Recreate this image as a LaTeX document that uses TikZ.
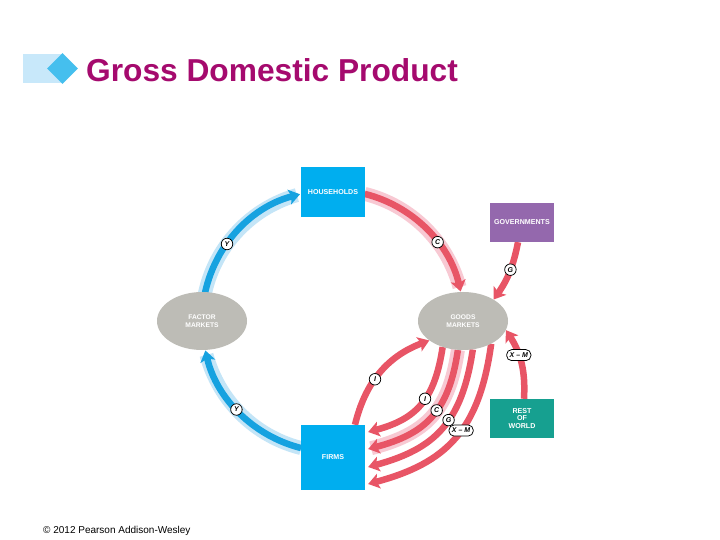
\documentclass[tikz,border=0pt]{standalone}
\usepackage{fontspec}
\setmainfont{Liberation Sans}
\usetikzlibrary{arrows.meta,shapes.geometric,calc,backgrounds}
\definecolor{titlec}{HTML}{A50A6E}
\definecolor{bannerlt}{HTML}{C8E8FA}
\definecolor{bannerdk}{HTML}{45BFEE}
\definecolor{boxblue}{HTML}{00AEEF}
\definecolor{flowblue}{HTML}{16A2E0}
\definecolor{haloblue}{HTML}{C4E5F7}
\definecolor{flowred}{HTML}{E85566}
\definecolor{halored}{HTML}{F8C9D3}
\definecolor{mktgray}{HTML}{BDBCB6}
\definecolor{govpurple}{HTML}{9468AD}
\definecolor{rowteal}{HTML}{16A090}
\pgfdeclarelayer{back}
\pgfdeclarelayer{halo}
\pgfsetlayers{back,halo,background,main}
\begin{document}
\begin{tikzpicture}[x=1pt,y=1pt,
  box/.style={rectangle, inner sep=0pt, text=white, font=\bfseries\fontsize{7.1}{7.9}\selectfont, align=center, minimum width=64pt},
  mkt/.style={ellipse, fill=mktgray, minimum width=90pt, minimum height=58pt, inner sep=0pt, text=white, font=\bfseries\fontsize{6.7}{7.8}\selectfont, align=center},
  bflow/.style={draw=flowblue, line width=6.5pt, -{Stealth[length=11pt,width=15pt,inset=2.5pt]}},
  rflow/.style={draw=flowred, line width=6.5pt, -{Stealth[length=11pt,width=15pt,inset=2.5pt]}},
  bhalo/.style={draw=haloblue, line width=14pt},
  rhalo/.style={draw=halored, line width=14pt},
  lbl/.style={circle, draw=black, fill=white, line width=0.75pt, inner sep=0pt, minimum size=11.5pt, font=\bfseries\itshape\fontsize{7}{7}\selectfont},
  pill/.style={rectangle, rounded corners=5pt, draw=black, fill=white, line width=0.75pt, inner xsep=3pt, inner ysep=0pt, minimum height=11pt, font=\bfseries\itshape\fontsize{7}{7}\selectfont}
]
\useasboundingbox (0,0) rectangle (720,540);
\begin{pgfonlayer}{back}
\fill[white] (0,0) rectangle (720,540);
\end{pgfonlayer}

% title banner
\fill[bannerlt] (23,457) rectangle (62,486);
\node[diamond, fill=bannerdk, minimum width=31pt, minimum height=31pt, inner sep=0pt] (dia) at (62.5,471.5) {};
\node[anchor=base west, text=titlec, font=\bfseries\fontsize{31.7}{36}\selectfont, inner sep=0pt] (title) at (86,458) {Gross Domestic Product};

% nodes
\node[box, fill=boxblue, minimum height=50pt] (hh) at (333,348) {HOUSEHOLDS};
\node[box, fill=boxblue, minimum height=65pt] (fi) at (333,82.5) {FIRMS};
\node[box, fill=govpurple, minimum height=39pt] (gov) at (522,317.5) {GOVERNMENTS};
\node[box, fill=rowteal, minimum height=39pt] (row) at (522,121.5) {REST\\OF\\WORLD};
\node[mkt] (fm) at (202,219) {FACTOR\\MARKETS};
\node[mkt] (gm) at (463,219) {GOODS\\MARKETS};

% circle points
\coordinate (O) at (333,219);
\coordinate (bA) at ($(O)+(180:131)$);
\coordinate (bB) at ($(O)+(255.9:131)$);
\coordinate (rA) at ($(O)+(76:131)$);

% halos
\begin{pgfonlayer}{halo}
\draw[bhalo] (bA) arc[start angle=180,end angle=106,radius=131];
\draw[bhalo] (bB) arc[start angle=255.9,end angle=195,radius=131];
\draw[rhalo] (rA) arc[start angle=76,end angle=15,radius=131];
\draw[rhalo, shorten >=3pt] (gm.260) .. controls +(-9,-62) and +(57,15) .. ([shift={(3,8.5)}]fi.east);
\end{pgfonlayer}

% flows
\begin{scope}[on background layer]
\draw[bflow] (bA) arc[start angle=180,end angle=104.6,radius=131];
\draw[bflow] (bB) arc[start angle=255.9,end angle=193,radius=131];
\draw[rflow] (rA) arc[start angle=76,end angle=13,radius=131];
\draw[rflow] ([xshift=-4pt]gov.south) to[bend left=12] node[lbl,pos=0.45]{G} (gm.35);
\draw[rflow] ([xshift=2pt]row.north) to[bend right=18] node[pill,pos=0.62]{X -- M} (gm.-12);
\draw[rflow] ([xshift=22pt]fi.north) to[bend left=28] node[lbl,pos=0.42]{I} (gm.210);
\draw[rflow] (gm.232) .. controls +(-8,-53) and +(48,13) .. node[lbl,pos=0.43]{I} ([shift={(3,25.5)}]fi.east);
\draw[rflow] (gm.260) .. controls +(-9,-62) and +(57,15) .. node[lbl,pos=0.43]{C} ([shift={(3,8.5)}]fi.east);
\draw[rflow] (gm.289) .. controls +(-11,-74) and +(66,18) .. node[lbl,pos=0.42]{G} ([shift={(3,-9.5)}]fi.east);
\draw[rflow] (gm.321) .. controls +(-12,-87) and +(78,21) .. node[pill,pos=0.44]{X -- M} ([shift={(3,-26.5)}]fi.east);
\end{scope}

% circle labels
\node[lbl] (ly1) at ($(O)+(144:131)$) {Y};
\node[lbl] (ly2) at ($(O)+(222.5:131)$) {Y};
\node[lbl] (lc1) at ($(O)+(37:131)$) {C};

% footer
\node[anchor=west, font=\fontsize{10}{12}\selectfont, inner sep=0pt] (copy) at (43,9) {© 2012 Pearson Addison-Wesley};
\end{tikzpicture}
\end{document}
